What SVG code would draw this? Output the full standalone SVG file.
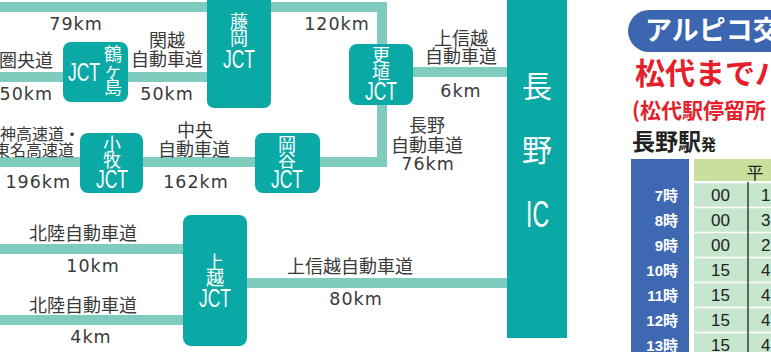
<svg xmlns="http://www.w3.org/2000/svg" width="771" height="352" viewBox="0 0 771 352">
<style>
.box{fill:#0aa9a6}
.road{fill:none;stroke:#7fccbe;stroke-width:10;stroke-linejoin:miter}
.lbl{font-family:"Noto Sans CJK JP","DejaVu Sans",sans-serif;font-size:18px;fill:#3a3a3a;text-anchor:middle}
.sm{font-size:16px}
.km{font-family:"DejaVu Sans","Noto Sans CJK JP",sans-serif;font-size:17.5px;fill:#3a3a3a;text-anchor:middle;letter-spacing:1px}
.end{text-anchor:end}
.bk{font-family:"Noto Sans CJK JP",sans-serif;font-size:18px;fill:#fff;text-anchor:middle}
.jct{font-family:"Liberation Sans",sans-serif;font-size:25px;fill:#fff}
.ic{font-family:"Noto Sans CJK JP",sans-serif;font-size:30px;fill:#fff;text-anchor:middle}
.hr{font-family:"Liberation Sans","Noto Sans CJK JP",sans-serif;font-size:15px;font-weight:bold;fill:#fff;text-anchor:end}
.num{font-family:"Liberation Sans",sans-serif;font-size:17px;fill:#222}
.row{fill:#c6e6cd}
</style>

<g id="connectors">
<path class="road" d="M0,7 H382 V162 H0"/>
<path class="road" d="M0,77 H207"/>
<path class="road" d="M413,72 H507"/>
<path class="road" d="M0,249 H183"/>
<path class="road" d="M0,320 H183"/>
<path class="road" d="M247,283 H507"/>
</g>

<g id="labels">
<text class="km" x="76" y="30">79km</text>
<text class="km" x="337" y="30">120km</text>
<text class="lbl end" x="53" y="67">圏央道</text>
<text class="km end" x="53" y="100">50km</text>
<text class="lbl" x="167" y="47">関越</text>
<text class="lbl" x="167" y="66">自動車道</text>
<text class="km" x="167" y="100">50km</text>
<text class="lbl" x="461" y="45">上信越</text>
<text class="lbl" x="461" y="63">自動車道</text>
<text class="km" x="461" y="97">6km</text>
<text class="lbl" x="427" y="132">長野</text>
<text class="lbl" x="427" y="152">自動車道</text>
<text class="km" x="428" y="170">76km</text>
<text class="lbl sm end" x="80" y="140">名神高速道・</text>
<text class="lbl sm end" x="74" y="156">東名高速道</text>
<text class="km end" x="71" y="188">196km</text>
<text class="lbl" x="195" y="137">中央</text>
<text class="lbl" x="194" y="156">自動車道</text>
<text class="km" x="196" y="188">162km</text>
<text class="lbl" x="83" y="240">北陸自動車道</text>
<text class="km" x="93" y="272">10km</text>
<text class="lbl" x="83" y="312">北陸自動車道</text>
<text class="km" x="91" y="343">4km</text>
<text class="lbl" x="350" y="273">上信越自動車道</text>
<text class="km" x="356" y="305">80km</text>
</g>

<g id="fujioka">
<rect class="box" x="207" y="-10" width="64" height="118" rx="7"/>
<text class="bk" x="239" y="28">藤</text>
<text class="bk" x="239" y="45">岡</text>
<text class="jct" x="223" y="68" textLength="32" lengthAdjust="spacingAndGlyphs">JCT</text>
</g>

<g id="tsurugashima">
<rect class="box" x="63" y="42" width="65" height="60" rx="8"/>
<text class="jct" x="68" y="81" textLength="32" lengthAdjust="spacingAndGlyphs">JCT</text>
<text class="bk" x="113" y="61">鶴</text>
<text class="bk" x="113" y="77">ヶ</text>
<text class="bk" x="113" y="94">島</text>
</g>

<g id="koshoku">
<rect class="box" x="349" y="44" width="64" height="61" rx="8"/>
<text class="bk" x="381" y="62">更</text>
<text class="bk" x="381" y="79">埴</text>
<text class="jct" x="365" y="100" textLength="32" lengthAdjust="spacingAndGlyphs">JCT</text>
</g>

<g id="komaki">
<rect class="box" x="80" y="133" width="63" height="60" rx="8"/>
<text class="bk" x="112" y="151">小</text>
<text class="bk" x="112" y="167">牧</text>
<text class="jct" x="96" y="188" textLength="32" lengthAdjust="spacingAndGlyphs">JCT</text>
</g>

<g id="okaya">
<rect class="box" x="255" y="133" width="65" height="60" rx="8"/>
<text class="bk" x="287" y="151">岡</text>
<text class="bk" x="287" y="167">谷</text>
<text class="jct" x="271" y="188" textLength="32" lengthAdjust="spacingAndGlyphs">JCT</text>
</g>

<g id="joetsu">
<rect class="box" x="183" y="215" width="64" height="131" rx="8"/>
<text class="bk" x="215" y="269">上</text>
<text class="bk" x="215" y="285">越</text>
<text class="jct" x="199" y="307" textLength="32" lengthAdjust="spacingAndGlyphs">JCT</text>
</g>

<g id="nagano-ic">
<rect class="box" x="507" y="-10" width="60" height="348"/>
<text class="ic" x="537" y="97">長</text>
<text class="ic" x="537" y="161">野</text>
<text x="526" y="227" font-family="Liberation Sans, sans-serif" font-size="37" fill="#fff" textLength="23" lengthAdjust="spacingAndGlyphs">IC</text>
</g>

<g id="timetable">
<rect x="628" y="10" width="200" height="42" rx="21" fill="#3d66b1"/>
<text x="645" y="40" font-family="Noto Sans CJK JP, sans-serif" font-size="27" font-weight="bold" fill="#fff">アルピコ交</text>
<text x="635" y="84" font-family="Noto Sans CJK JP, sans-serif" font-size="30" font-weight="bold" fill="#e5202a">松代までバ</text>
<text x="632" y="118" font-family="Noto Sans CJK JP, sans-serif" font-size="21" font-weight="bold" fill="#e5202a">(松代駅停留所</text>
<text x="632" y="150" font-family="Noto Sans CJK JP, sans-serif" font-size="23" font-weight="bold" fill="#222">長野駅<tspan font-size="15">発</tspan></text>
<rect x="631" y="159" width="58" height="200" fill="#3f68b2"/>
<rect x="694" y="159" width="80" height="22" fill="#c9e09c"/>
<text x="755" y="179" font-family="Noto Sans CJK JP, sans-serif" font-size="17" fill="#222" text-anchor="middle">平</text>
<rect class="row" x="694" y="183.3" width="80" height="23.4"/>
<rect class="row" x="694" y="208.3" width="80" height="23.4"/>
<rect class="row" x="694" y="233.3" width="80" height="23.4"/>
<rect class="row" x="694" y="258.3" width="80" height="23.4"/>
<rect class="row" x="694" y="283.3" width="80" height="23.4"/>
<rect class="row" x="694" y="308.3" width="80" height="23.4"/>
<rect class="row" x="694" y="333.3" width="80" height="23.4"/>
<line x1="748" y1="182" x2="748" y2="352" stroke="#222" stroke-width="1.3"/>
<text class="hr" x="678" y="201">7時</text>
<text class="hr" x="678" y="226">8時</text>
<text class="hr" x="678" y="251">9時</text>
<text class="hr" x="678" y="276">10時</text>
<text class="hr" x="678" y="301">11時</text>
<text class="hr" x="678" y="326">12時</text>
<text class="hr" x="678" y="351">13時</text>
<text class="num" x="711" y="201">00</text>
<text class="num" x="711" y="226">00</text>
<text class="num" x="711" y="251">00</text>
<text class="num" x="711" y="276">15</text>
<text class="num" x="711" y="301">15</text>
<text class="num" x="711" y="326">15</text>
<text class="num" x="711" y="351">15</text>
<text class="num" x="761" y="201">1</text>
<text class="num" x="761" y="226">3</text>
<text class="num" x="761" y="251">2</text>
<text class="num" x="761" y="276">4</text>
<text class="num" x="761" y="301">4</text>
<text class="num" x="761" y="326">4</text>
<text class="num" x="761" y="351">4</text>
</g>
</svg>
